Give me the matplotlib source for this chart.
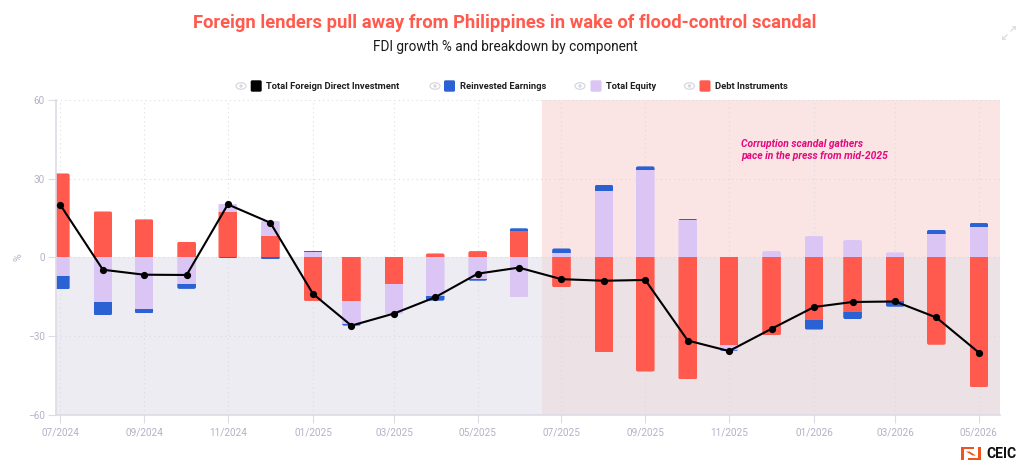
import matplotlib
matplotlib.use("Agg")
import matplotlib.pyplot as plt
import matplotlib.dates as mdates
import pandas as pd
from matplotlib.patches import FancyBboxPatch, Ellipse, Circle, Rectangle, Polygon
from matplotlib.transforms import IdentityTransform

plt.rcParams['font.family'] = ['Roboto', 'DejaVu Sans']

months = ["2024-07","2024-08","2024-09","2024-10","2024-11","2024-12",
          "2025-01","2025-02","2025-03","2025-04","2025-05","2025-06",
          "2025-07","2025-08","2025-09","2025-10","2025-11","2025-12",
          "2026-01","2026-02","2026-03","2026-04","2026-05"]
total_fdi = [20.0,-4.7,-6.6,-6.7,20.2,13.2,-13.9,-26.0,-21.4,-15.2,-6.2,-3.9,
             -8.3,-8.9,-8.6,-31.7,-35.7,-27.2,-18.9,-17.0,-16.8,-22.9,-36.3]
debt = [32.0,17.5,14.5,6.0,17.3,8.2,-16.6,-16.5,-10.0,1.5,2.4,10.2,
        -11.4,-36.2,-43.5,-46.5,-33.4,-29.7,-23.9,-20.7,-16.6,-33.3,-49.4]
equity = [-7.2,-17.0,-19.8,-10.3,3.2,5.8,2.0,-9.0,-11.4,-14.6,-8.4,-15.2,
          1.8,25.3,33.5,14.3,-1.8,2.4,8.1,6.6,1.9,9.1,11.7]
reinvested = [-5.0,-5.0,-1.5,-1.7,-0.3,-0.8,0.6,-0.5,-0.2,-1.9,-0.5,0.9,
              1.6,2.3,1.2,0.4,-0.4,0.0,-3.6,-2.8,-2.2,1.4,1.4]
y_ticks = [-60,-30,0,30,60]
x_tick_months = months[::2]
x_tick_labels = [m[5:]+"/"+m[:4] for m in x_tick_months]
title = "Foreign lenders pull away from Philippines in wake of flood-control scandal"
subtitle = "FDI growth % and breakdown by component"
note = "Corruption scandal gathers\npace in the press from mid-2025"
band_start = "2025-07-17"

RED, BLUE, LAV = "#ff5a4d", "#2b62d3", "#dac5f4"
GREY, AXC, GRID = "#b4b2c6", "#dcdbe6", "#dcdbe3"

def month_end(m):
    return mdates.date2num(pd.Timestamp(m + "-01") + pd.offsets.MonthEnd(0))

W, H = 1024, 469
fig = plt.figure(figsize=(W/100, H/100), dpi=100, facecolor="white")
L, R, T, B = 56.2, 999.5, 100, 414.8
ax = fig.add_axes([L/W, 1-B/H, (R-L)/W, (B-T)/H])
xs = [month_end(m) for m in months]
ax.set_xlim(xs[0]-3, xs[-1]+15)
ax.set_ylim(-60, 60)

ax.axhspan(-60, 0, facecolor="#edecf2", edgecolor="none", zorder=0)
band_x = mdates.date2num(pd.Timestamp(band_start))
ax.axvspan(band_x, ax.get_xlim()[1], ymin=0.5, ymax=1, facecolor="#fae4e4", edgecolor="none", zorder=0.5)
ax.axvspan(band_x, ax.get_xlim()[1], ymin=0, ymax=0.5, facecolor="#ece1e5", edgecolor="none", zorder=0.5)

ax.set_yticks(y_ticks)
ax.set_xticks([month_end(m) for m in x_tick_months])
ax.set_xticklabels(x_tick_labels)
ax.grid(True, color=GRID, lw=0.8, ls=(0, (1, 3)), zorder=1)
ax.set_axisbelow(True)
for s in ("top", "right"):
    ax.spines[s].set_visible(False)
for s in ("left", "bottom"):
    ax.spines[s].set_color(AXC)
    ax.spines[s].set_linewidth(1.2)
ax.tick_params(axis="x", length=6, width=0.8, color=AXC, labelcolor=GREY, labelsize=7.2, pad=3)
ax.tick_params(axis="y", length=6, width=0.8, color=AXC, labelcolor=GREY, labelsize=7.2, pad=2)
ax.set_ylabel("%", color=GREY, fontsize=7.6, labelpad=3)

# Stacks grow away from zero by sign: debt, then equity, then reinvested earnings.
BW = 13.6
R_PX = 2.0
for i, x in enumerate(xs):
    pos, neg = 0.0, 0.0
    drawn = {1: [], -1: []}
    for val, col in ((debt[i], RED), (equity[i], LAV), (reinvested[i], BLUE)):
        if val == 0:
            continue
        bottom = pos if val > 0 else neg
        b = ax.bar(x, val, width=BW, bottom=bottom, color=col, edgecolor="none", zorder=2)[0]
        drawn[1 if val > 0 else -1].append(b)
        if val > 0:
            pos += val
        else:
            neg += val
    for sign, end in ((1, pos), (-1, neg)):
        if not drawn[sign]:
            continue
        (x0, y0) = ax.transData.transform((x - BW/2, min(0, end)))
        (x1, y1) = ax.transData.transform((x + BW/2, max(0, end)))
        # Round only the far end of the stack: extend the clip past zero.
        if sign > 0:
            y0 -= 4
        else:
            y1 += 4
        r = R_PX
        clip = FancyBboxPatch((x0+r, y0+r), x1-x0-2*r, y1-y0-2*r,
                              boxstyle=f"round,pad={r},rounding_size={r}",
                              transform=IdentityTransform())
        for b in drawn[sign]:
            b.set_clip_path(clip)

ax.plot(xs, total_fdi, color="black", lw=1.5, marker="o", ms=5.2, mew=0, zorder=3)

# Overlay in pixel coordinates for the page furniture.
ov = fig.add_axes([0, 0, 1, 1], facecolor="none")
ov.set_xlim(0, W); ov.set_ylim(H, 0); ov.axis("off")
ov.text(505, 22.5, title, ha="center", va="center", color=RED, fontsize=13.25, fontweight="bold")
ov.text(505, 47, subtitle, ha="center", va="center", color="#1a1a1a", fontsize=9.8)
ov.text(741, 150, note, ha="left", va="center", color="#e5087e", fontsize=7.38,
        fontstyle="italic", fontweight="bold", linespacing=1.3)

legend = [("Total Foreign Direct Investment", "black", 241, 250.7, 266.5),
          ("Reinvested Earnings", BLUE, 435, 444, 459.5),
          ("Total Equity", LAV, 580, 590.5, 605.8),
          ("Debt Instruments", RED, 689.5, 699.5, 715.2)]
for label, col, ex, sx, tx in legend:
    ov.add_patch(Ellipse((ex, 86), 10, 6.5, fc="none", ec="#d8d7e0", lw=0.9))
    ov.add_patch(Circle((ex, 86), 1.7, fc="#d8d7e0", ec="none"))
    ov.add_patch(FancyBboxPatch((sx+1.5, 81.8), 8, 8.4, boxstyle="round,pad=1.5,rounding_size=1.5",
                                fc=col, ec="none"))
    ov.text(tx, 86.3, label, ha="left", va="center", color="#1f1f1f", fontsize=6.75, fontweight="bold")

# Expand icon, upper right
ICON = "#dedee3"
ov.plot([1003, 1007], [39, 35], color=ICON, lw=1)
ov.plot([1011, 1015], [31, 27], color=ICON, lw=1)
ov.add_patch(Polygon([(1002, 40), (1002, 35.5), (1006.5, 40)], fc=ICON, ec="none"))
ov.add_patch(Polygon([(1016, 26), (1011.5, 26), (1016, 30.5)], fc=ICON, ec="none"))

# CEIC logo
OR = "#f0531c"
ov.add_patch(Rectangle((961, 446.8), 3, 13.4, fc=OR, ec="none"))
ov.add_patch(Rectangle((977.7, 446.8), 3, 13.4, fc=OR, ec="none"))
ov.add_patch(Rectangle((961, 446.8), 13, 2.4, fc=OR, ec="none"))
ov.add_patch(Rectangle((967.7, 457.8), 13, 2.4, fc=OR, ec="none"))
ov.add_patch(Polygon([(966, 451.5), (969.5, 451.5), (976, 455.5), (972.5, 455.5)], fc=OR, ec="none"))
ov.text(986.5, 453.5, "CEIC", ha="left", va="center", color="#111111", fontsize=10, fontweight="bold")

fig.savefig("out.png", dpi=100, facecolor="white")
